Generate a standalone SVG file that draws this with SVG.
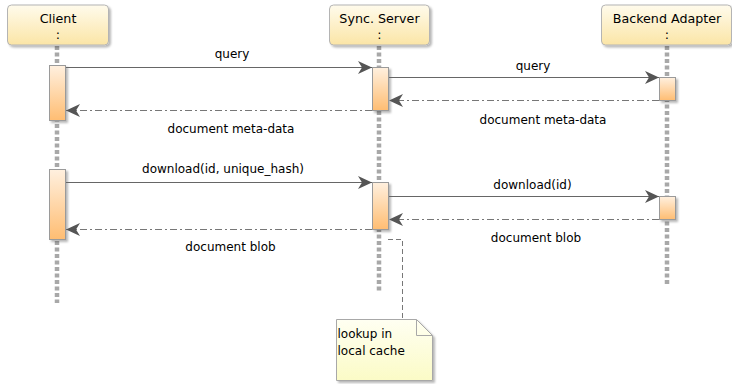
<svg xmlns="http://www.w3.org/2000/svg" width="732" height="384" viewBox="0 0 732 384">
<style>
.title{font-family:"DejaVu Sans","Liberation Sans",sans-serif;font-size:12.7px;fill:#000;text-anchor:middle}
.lbl{font-family:"DejaVu Sans","Liberation Sans",sans-serif;font-size:12px;fill:#000;text-anchor:middle}
.note{font-family:"DejaVu Sans","Liberation Sans",sans-serif;font-size:12px;fill:#000}
.head{fill:url(#gHead);stroke:#b4b4b4;stroke-width:1;filter:url(#sh)}
.act{fill:url(#gAct);stroke:#9a9a9a;stroke-width:1;filter:url(#sh)}
.life{stroke:#a8a8a8;stroke-width:4.5;stroke-dasharray:4 2.5;fill:none}
.msg{stroke:#666;stroke-width:1.2;fill:none;marker-end:url(#ah)}
.ret{stroke:#777;stroke-width:1.2;fill:none;stroke-dasharray:7 3 2 3;marker-end:url(#ah)}
.link{stroke:#777;stroke-width:1;fill:none;stroke-dasharray:5 3}
</style>
<defs>
<linearGradient id="gHead" x1="0" y1="0" x2="0" y2="1">
<stop offset="0" stop-color="#fffbec"/>
<stop offset="1" stop-color="#fbe5a6"/>
</linearGradient>
<linearGradient id="gAct" x1="0" y1="0" x2="0" y2="1">
<stop offset="0" stop-color="#fff0df"/>
<stop offset="1" stop-color="#ffbd72"/>
</linearGradient>
<linearGradient id="gNote" x1="0" y1="0" x2="0" y2="1">
<stop offset="0" stop-color="#fffff2"/>
<stop offset="1" stop-color="#fbfbc6"/>
</linearGradient>
<filter id="sh" x="-20%" y="-20%" width="150%" height="150%">
<feDropShadow dx="2" dy="2" stdDeviation="1.3" flood-color="#000" flood-opacity="0.28"/>
</filter>
<marker id="ah" viewBox="-15 -8 16 16" refX="0" refY="0" markerWidth="16" markerHeight="16" markerUnits="userSpaceOnUse" orient="auto">
<path d="M0,0 L-14,-6.5 L-10,0 L-14,6.5 Z" fill="#555"/>
</marker>
</defs>

<g id="lifelines">
<line class="life" x1="57" y1="46" x2="57" y2="303"/>
<line class="life" x1="379" y1="46" x2="379" y2="293"/>
<line class="life" x1="667" y1="46" x2="667" y2="284"/>
</g>

<g id="client">
<rect class="head" x="7.5" y="5" width="101" height="40" rx="4"/>
<text class="title" x="58" y="22.5">Client</text>
<text class="title" x="58" y="39">:</text>
</g>
<g id="sync-server">
<rect class="head" x="329.5" y="5" width="100" height="40" rx="4"/>
<text class="title" x="379.5" y="22.5">Sync. Server</text>
<text class="title" x="379.5" y="39">:</text>
</g>
<g id="backend-adapter">
<rect class="head" x="601.5" y="5" width="130" height="40" rx="4"/>
<text class="title" x="667" y="22.5">Backend Adapter</text>
<text class="title" x="667" y="39">:</text>
</g>

<g id="activations">
<rect id="act-client-1" class="act" x="49.5" y="65.5" width="16" height="55"/>
<rect id="act-server-1" class="act" x="372.5" y="67.5" width="16" height="43"/>
<rect id="act-backend-1" class="act" x="659.5" y="77.5" width="16" height="23"/>
<rect id="act-client-2" class="act" x="49.5" y="169.5" width="16" height="70"/>
<rect id="act-server-2" class="act" x="372.5" y="182.5" width="16" height="47"/>
<rect id="act-backend-2" class="act" x="659.5" y="196.5" width="16" height="23"/>
</g>

<g id="connectors">
<line class="msg" x1="66" y1="67.5" x2="372" y2="67.5"/>
<line class="msg" x1="389" y1="77.5" x2="659" y2="77.5"/>
<line class="ret" x1="659" y1="100.5" x2="389" y2="100.5"/>
<line class="ret" x1="372" y1="110.5" x2="66" y2="110.5"/>
<line class="msg" x1="66" y1="182.5" x2="372" y2="182.5"/>
<line class="msg" x1="389" y1="196.5" x2="659" y2="196.5"/>
<line class="ret" x1="659" y1="219.5" x2="389" y2="219.5"/>
<line class="ret" x1="372" y1="229.5" x2="66" y2="229.5"/>
<polyline class="link" points="388,239.5 402.5,239.5 402.5,319"/>
</g>

<g id="labels">
<text class="lbl" x="232" y="58">query</text>
<text class="lbl" x="533" y="70">query</text>
<text class="lbl" x="543" y="123.5">document meta-data</text>
<text class="lbl" x="231" y="133">document meta-data</text>
<text class="lbl" x="223" y="172.5">download(id, unique_hash)</text>
<text class="lbl" x="532.5" y="188.5">download(id)</text>
<text class="lbl" x="536" y="242">document blob</text>
<text class="lbl" x="230.5" y="251">document blob</text>
</g>

<g id="note-lookup">
<path d="M336.5,319.5 L416.5,319.5 L432.5,335.5 L432.5,380.5 L336.5,380.5 Z" fill="url(#gNote)" stroke="#a8a8a8" stroke-width="1" filter="url(#sh)"/>
<path d="M416.5,319.5 L416.5,335.5 L432.5,335.5" fill="none" stroke="#a8a8a8" stroke-width="1"/>
<text class="note" x="337.5" y="338">lookup in</text>
<text class="note" x="337.5" y="355">local cache</text>
</g>
</svg>
